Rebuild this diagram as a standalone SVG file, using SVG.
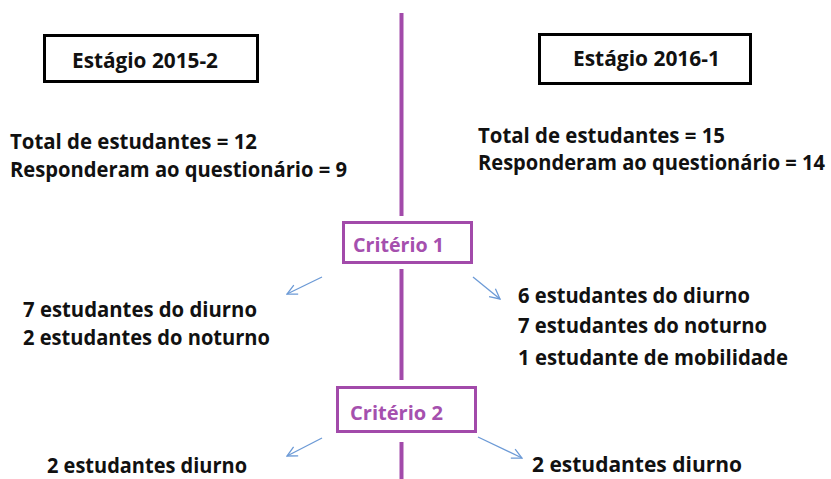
<svg xmlns="http://www.w3.org/2000/svg" width="831" height="479" viewBox="0 0 831 479">
<style>
text{font-family:"Open Sans","Noto Sans","Liberation Sans",sans-serif;font-weight:bold;fill:#111}
.lbl{font-size:21.5px}
.head{font-size:22px}
.crit{font-size:20px;fill:#A550AE}
.blackbox{fill:#fff;stroke:#000;stroke-width:3}
.critbox{fill:#fff;stroke:#A24AAA;stroke-width:3}
.vline{stroke:#A24AAA;stroke-width:4;fill:none}
.arrow{stroke:#6C9AD6;stroke-width:1.3;fill:none;marker-end:url(#ah)}
</style>
<defs>
<marker id="ah" viewBox="0 0 12 12" refX="11" refY="6" markerWidth="12" markerHeight="12" markerUnits="userSpaceOnUse" orient="auto">
<path d="M1,1 L11,6 L1,11" fill="none" stroke="#6C9AD6" stroke-width="1.3"/>
</marker>
</defs>
<rect width="831" height="479" fill="#fff"/>
<g id="divider">
<line class="vline" x1="401.5" y1="13" x2="401.5" y2="216"/>
<line class="vline" x1="401.5" y1="269" x2="401.5" y2="380"/>
<line class="vline" x1="401.5" y1="442" x2="401.5" y2="479"/>
</g>
<g id="connectors">
<line class="arrow" x1="322" y1="277" x2="287" y2="294"/>
<line class="arrow" x1="473" y1="277" x2="500" y2="299"/>
<line class="arrow" x1="322" y1="438" x2="287" y2="456"/>
<line class="arrow" x1="478" y1="437" x2="522" y2="458"/>
</g>
<g id="estagio-2015-2">
<rect class="blackbox" x="44.5" y="35.5" width="213" height="46"/>
<text class="head" x="72" y="68" textLength="146" lengthAdjust="spacingAndGlyphs">Estágio 2015-2</text>
</g>
<g id="estagio-2016-1">
<rect class="blackbox" x="539.5" y="34.5" width="211" height="49"/>
<text class="head" x="573" y="66" textLength="147" lengthAdjust="spacingAndGlyphs">Estágio 2016-1</text>
</g>
<g id="totais-2015-2">
<text class="lbl" x="10" y="149" textLength="247" lengthAdjust="spacingAndGlyphs">Total de estudantes = 12</text>
<text class="lbl" x="10" y="177" textLength="337" lengthAdjust="spacingAndGlyphs">Responderam ao questionário = 9</text>
</g>
<g id="totais-2016-1">
<text class="lbl" x="478" y="143" textLength="247" lengthAdjust="spacingAndGlyphs">Total de estudantes = 15</text>
<text class="lbl" transform="scale(0.84,1)" x="569.05" y="170" textLength="413.1" lengthAdjust="spacingAndGlyphs">Responderam ao questionário = 14</text>
</g>
<g id="criterio-1">
<rect class="critbox" x="343.5" y="222.5" width="128" height="40"/>
<text class="crit" x="353" y="252" textLength="91" lengthAdjust="spacingAndGlyphs">Critério 1</text>
</g>
<g id="criterio1-2015-2">
<text class="lbl" x="23" y="317" textLength="234" lengthAdjust="spacingAndGlyphs">7 estudantes do diurno</text>
<text class="lbl" x="23" y="345" textLength="247" lengthAdjust="spacingAndGlyphs">2 estudantes do noturno</text>
</g>
<g id="criterio1-2016-1">
<text class="lbl" x="518" y="303" textLength="232" lengthAdjust="spacingAndGlyphs">6 estudantes do diurno</text>
<text class="lbl" x="518" y="333" textLength="249" lengthAdjust="spacingAndGlyphs">7 estudantes do noturno</text>
<text class="lbl" x="518" y="365" textLength="270" lengthAdjust="spacingAndGlyphs">1 estudante de mobilidade</text>
</g>
<g id="criterio-2">
<rect class="critbox" x="337.5" y="387.5" width="138" height="44"/>
<text class="crit" x="350" y="420" textLength="93" lengthAdjust="spacingAndGlyphs">Critério 2</text>
</g>
<g id="criterio2-2015-2">
<text class="lbl" x="47" y="473" textLength="200" lengthAdjust="spacingAndGlyphs">2 estudantes diurno</text>
</g>
<g id="criterio2-2016-1">
<text class="lbl" x="532" y="472" textLength="210" lengthAdjust="spacingAndGlyphs">2 estudantes diurno</text>
</g>
</svg>
